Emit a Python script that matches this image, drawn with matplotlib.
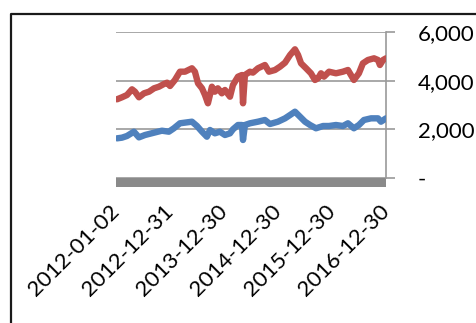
import matplotlib
matplotlib.use("Agg")
import matplotlib.pyplot as plt
from matplotlib.lines import Line2D
from matplotlib.patches import Rectangle
from matplotlib.ticker import FuncFormatter
import pandas as pd

plt.rcParams['font.family'] = ['Lato', 'DejaVu Sans']

# Upper series (red)
red_dates = [
    "2012-01-09", "2012-02-11", "2012-03-16", "2012-04-19", "2012-05-09", "2012-06-05",
    "2012-07-09", "2012-08-12", "2012-09-15", "2012-10-18", "2012-11-21", "2012-12-12",
    "2013-01-01", "2013-02-03", "2013-03-09", "2013-04-12", "2013-05-29", "2013-06-18",
    "2013-07-09", "2013-08-05", "2013-08-25", "2013-09-14", "2013-10-11", "2013-10-31",
    "2013-11-20", "2013-12-17", "2014-01-07", "2014-02-10", "2014-03-02", "2014-04-05",
    "2014-05-02", "2014-05-09", "2014-05-22", "2014-06-25", "2014-07-15", "2014-08-18",
    "2014-10-04", "2014-10-31", "2014-12-11", "2015-01-14", "2015-02-17", "2015-03-23",
    "2015-04-25", "2015-05-16", "2015-06-05", "2015-07-09", "2015-08-11", "2015-09-07",
    "2015-09-28", "2015-10-18", "2015-11-07", "2015-12-11", "2016-01-27", "2016-03-14",
    "2016-04-17", "2016-05-07", "2016-05-27", "2016-06-30", "2016-07-27", "2016-08-30",
    "2016-10-10", "2016-11-06", "2016-11-19", "2016-12-10", "2016-12-30",
]
red_values = [
    3234, 3316, 3410, 3645, 3547, 3316,
    3480, 3547, 3686, 3752, 3863, 3917,
    3781, 4028, 4369, 4369, 4509, 4369,
    3892, 3686, 3411, 3070, 3752, 3547,
    3686, 3480, 3617, 3341, 3822, 4163,
    4233, 3070, 4233, 4369, 4330, 4509,
    4644, 4369, 4439, 4575, 4740, 5055,
    5289, 5055, 4713, 4509, 4303, 4028,
    4097, 4303, 4164, 4369, 4303, 4369,
    4439, 4233, 4028, 4303, 4713, 4850,
    4919, 4850, 4644, 4850, 4919,
]

# Lower series (blue)
blue_dates = [
    "2012-01-09", "2012-02-11", "2012-03-16", "2012-05-02", "2012-06-05", "2012-07-16",
    "2012-09-15", "2012-11-07", "2012-12-24", "2013-01-27", "2013-03-09", "2013-05-29",
    "2013-07-02", "2013-08-05", "2013-09-07", "2013-09-28", "2013-10-31", "2013-12-04",
    "2014-01-07", "2014-02-10", "2014-03-02", "2014-04-05", "2014-05-02", "2014-05-09",
    "2014-05-22", "2014-06-25", "2014-08-18", "2014-10-04", "2014-11-07", "2014-12-31",
    "2015-02-17", "2015-03-23", "2015-04-25", "2015-05-29", "2015-07-02", "2015-08-05",
    "2015-09-14", "2015-11-01", "2015-12-11", "2016-01-27", "2016-03-14", "2016-04-17",
    "2016-05-27", "2016-06-30", "2016-08-03", "2016-09-20", "2016-11-06", "2016-11-26",
    "2016-12-30",
]
blue_values = [
    1630, 1657, 1726, 1903, 1670, 1767,
    1862, 1944, 1903, 2043, 2248, 2314,
    2137, 1903, 1697, 1973, 1836, 1903,
    1767, 1836, 2000, 2178, 2178, 1562,
    2178, 2248, 2314, 2384, 2219, 2314,
    2452, 2589, 2725, 2520, 2314, 2178,
    2043, 2137, 2137, 2178, 2137, 2248,
    2043, 2178, 2384, 2452, 2452, 2314,
    2452,
]

tick_dates = ["2012-01-02", "2012-12-31", "2013-12-30", "2014-12-30", "2015-12-30", "2016-12-30"]
y_ticks = [0, 2000, 4000, 6000]

W, H = 476, 323
fig = plt.figure(figsize=(W / 100, H / 100), dpi=100)
ax = fig.add_axes([116 / W, 1 - 178 / H, (386 - 116) / W, (178 - 32) / H])

grid_col = "#9a9a9a"
ax.plot(pd.to_datetime(red_dates), red_values, color="#C0504D", lw=4.6,
        solid_capstyle="round", solid_joinstyle="round", zorder=3)
ax.plot(pd.to_datetime(blue_dates), blue_values, color="#4F81BD", lw=4.6,
        solid_capstyle="round", solid_joinstyle="round", zorder=3)

ax.set_xlim(pd.Timestamp(tick_dates[0]), pd.Timestamp(tick_dates[-1]))
ax.set_ylim(0, 6000)

ax.set_xticks(pd.to_datetime(tick_dates))
ax.set_xticklabels(tick_dates)
ax.tick_params(axis="x", length=0, pad=22, labelsize=16)
for lbl in ax.get_xticklabels():
    lbl.set_rotation(45)
    lbl.set_ha("right")
    lbl.set_va("center")
    lbl.set_rotation_mode("anchor")

ax.yaxis.tick_right()
ax.set_yticks(y_ticks)
ax.yaxis.set_major_formatter(FuncFormatter(lambda v, p: "-" if v == 0 else f"{v:,.0f}"))
ax.tick_params(axis="y", direction="out", length=6.5, width=1.2, color=grid_col,
               pad=16.5, labelsize=16)
for lbl in ax.get_yticklabels():
    lbl.set_ha("left")

ax.grid(axis="y", color=grid_col, lw=1.2)
ax.set_axisbelow(True)
for side in ["left", "top", "bottom"]:
    ax.spines[side].set_visible(False)
ax.spines["right"].set_color(grid_col)
ax.spines["right"].set_linewidth(1.2)

# thick grey band along the category axis
band = Rectangle((0, 0), 1, -9 / (178 - 32), transform=ax.transAxes,
                 facecolor="#8a8a8a", edgecolor="none", clip_on=False, zorder=2)
ax.add_patch(band)

# outer chart frame
fig.add_artist(Line2D([11 / W, 11 / W, 1.0], [0.0, 1 - 14 / H, 1 - 14 / H],
                      transform=fig.transFigure, color="#1a1a1a", lw=1.6))

fig.savefig("out.png", dpi=100)
